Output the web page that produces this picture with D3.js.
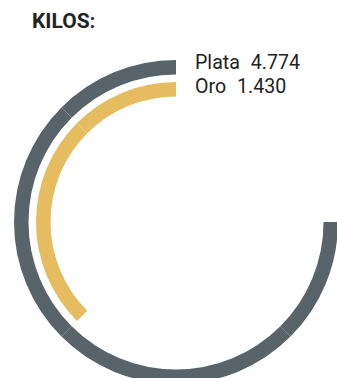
<!DOCTYPE html>
<html><head><meta charset="utf-8">
<script src="https://cdn.jsdelivr.net/npm/d3@7"></script>
<style>html,body{margin:0;padding:0;background:#fff;}svg{display:block;}</style>
</head><body>
<svg id="c" width="337" height="378"></svg>
<script>
const title = "KILOS:";
const categories = ["Plata", "Oro"];
const values = [4.774, 1.430];
const valueLabels = ["4.774", "1.430"];
const colors = ["#59646a", "#e5bc60"];

const svg = d3.select("#c");
const cx = 176, cy = 222;
const ringOuter = 162, bandW = 14.5, gapW = 7.5;

// angular scale (degrees, counter-clockwise from 12 o'clock)
const angle = d3.scaleLinear().domain([0, values[1], values[0]]).range([0, 135, 270]);

svg.append("text").attr("x", 32).attr("y", 27.5)
  .attr("font-family", "Roboto").attr("font-weight", "bold").attr("font-size", 21)
  .attr("fill", "#222").text(title);

const g = svg.append("g").attr("transform", `translate(${cx},${cy})`);
const arc = d3.arc();
const step = 45;
categories.forEach((c, i) => {
  const ro = ringOuter - i * (bandW + gapW);
  const ri = ro - bandW;
  const total = angle(values[i]);
  for (let a = 0; a < total - 1e-6; a += step) {
    const b = Math.min(a + step, total);
    g.append("path")
      .attr("d", arc({innerRadius: ri, outerRadius: ro,
        startAngle: -b * Math.PI / 180, endAngle: -a * Math.PI / 180}))
      .attr("fill", colors[i]);
  }
  const t = svg.append("text")
    .attr("x", cx + 19).attr("y", 68.5 + i * 24.5)
    .attr("font-family", "Roboto").attr("font-size", 19.6)
    .attr("fill", "#222");
  t.append("tspan").text(c);
  t.append("tspan").attr("dx", 11).text(valueLabels[i]);
});
</script>
</body></html>
